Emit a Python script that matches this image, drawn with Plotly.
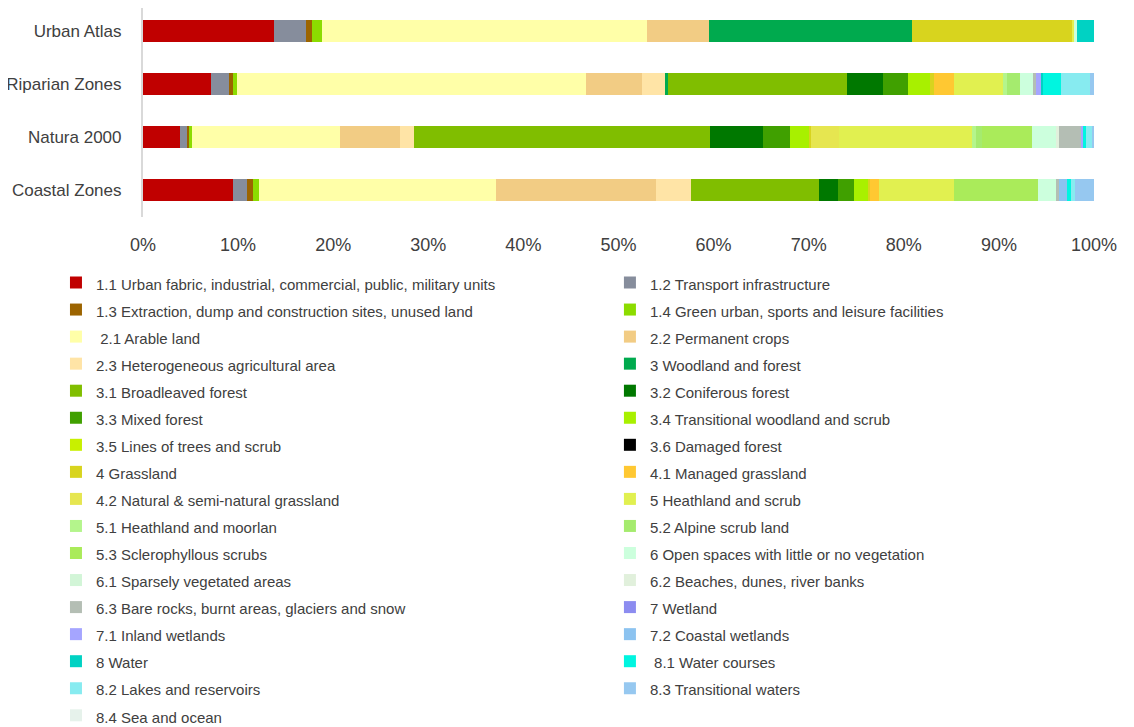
import plotly.graph_objects as go

# Land cover share (%) per zone type, stacked horizontally
zones = ['Urban Atlas', 'Riparian Zones', 'Natura 2000', 'Coastal Zones']

classes = [
    '1.1 Urban fabric, industrial, commercial, public, military units',
    '1.2 Transport infrastructure',
    '1.3 Extraction, dump and construction sites, unused land',
    '1.4 Green urban, sports and leisure facilities',
    ' 2.1 Arable land',
    '2.2 Permanent crops',
    '2.3 Heterogeneous agricultural area',
    '3 Woodland and forest',
    '3.1 Broadleaved forest',
    '3.2 Coniferous forest',
    '3.3 Mixed forest',
    '3.4 Transitional woodland and scrub',
    '3.5 Lines of trees and scrub',
    '3.6 Damaged forest',
    '4 Grassland',
    '4.1 Managed grassland',
    '4.2 Natural & semi-natural grassland',
    '5 Heathland and scrub',
    '5.1 Heathland and moorlan',
    '5.2 Alpine scrub land',
    '5.3 Sclerophyllous scrubs',
    '6 Open spaces with little or no vegetation',
    '6.1 Sparsely vegetated areas',
    '6.2 Beaches, dunes, river banks',
    '6.3 Bare rocks, burnt areas, glaciers and snow',
    '7 Wetland',
    '7.1 Inland wetlands',
    '7.2 Coastal wetlands',
    '8 Water',
    ' 8.1 Water courses',
    '8.2 Lakes and reservoirs',
    '8.3 Transitional waters',
    '8.4 Sea and ocean',
]

colors = [
    '#C00000', '#868D9C', '#9C6400', '#8CDC00',
    '#FFFFA8', '#F2CC84', '#FFE4A6',
    '#00AA4E', '#80BE00', '#007800', '#40A000', '#A8F000', '#C8F000', '#000000',
    '#D8D41E', '#FFC832', '#E6E650',
    '#E1F050', '#B4F58C', '#A5EB6E', '#AAEB5A',
    '#CCFFDD', '#D2F5D7', '#E1F0DC', '#B4BEB4',
    '#8C8CF0', '#A5A5FF', '#8CC3F0',
    '#00D2C3', '#00F5E0', '#87EBF0', '#96C8F0', '#E6F2EB',
]

urban_atlas = [13.75, 3.36, 0.64, 1.12, 34.08, 6.59, 0, 21.32, 0, 0, 0, 0, 0, 0,
               16.9, 0, 0, 0.18, 0, 0, 0, 0.3, 0, 0, 0, 0, 0, 0,
               1.76, 0, 0, 0, 0]
riparian = [7.19, 1.82, 0.42, 0.49, 36.63, 5.89, 2.42, 0.35, 18.77, 3.81, 2.67, 2.28, 0, 0,
            0.42, 2.07, 0, 5.16, 0.42, 1.4, 0, 1.47, 0, 0, 0.2, 0, 0.51, 0,
            0.27, 1.86, 3.04, 0.43, 0]
natura = [3.86, 0.77, 0.18, 0.34, 15.54, 6.31, 1.47, 0, 31.14, 5.61, 2.81, 2.02, 0, 0,
          0.15, 0, 3.01, 13.96, 0.4, 0.62, 5.32, 2.49, 0, 0.35, 2.36, 0, 0.17, 0,
          0, 0.28, 0.7, 0.14, 0]
coastal = [9.47, 1.51, 0.56, 0.63, 24.9, 16.86, 3.68, 0, 13.5, 1.96, 1.69, 1.5, 0, 0,
           0.18, 0.95, 0, 7.88, 0, 0, 8.81, 1.92, 0, 0, 0.28, 0, 0, 0.84,
           0, 0.45, 0.39, 2.03, 0]

tick_vals = [0, 10, 20, 30, 40, 50, 60, 70, 80, 90, 100]
tick_text = ['0%', '10%', '20%', '30%', '40%', '50%', '60%', '70%', '80%', '90%', '100%']

font = 'Liberation Sans, Arial, sans-serif'

fig = go.Figure()
for i, name in enumerate(classes):
    vals = [urban_atlas[i], riparian[i], natura[i], coastal[i]]
    fig.add_trace(go.Bar(
        name='<span style="font-size:15px">' + name + '</span>',
        y=zones,
        x=vals,
        orientation='h',
        marker={'color': colors[i], 'line': {'width': 0}},
        hovertemplate='%{y}: %{x:.2f}%<extra>' + name + '</extra>',
    ))

# zero margins so the legend may use the full page width/height;
# the bars sit in the top part via axis domains
fig.update_layout(
    barmode='stack',
    bargap=0.585,
    width=1134,
    height=727,
    margin={'l': 0, 'r': 0, 't': 0, 'b': 0, 'autoexpand': False},
    plot_bgcolor='white',
    paper_bgcolor='white',
    font={'family': font, 'color': '#404040'},
    xaxis={
        'domain': [0.119, 0.9577],
        'range': [0, 100],
        'tickmode': 'array',
        'tickvals': tick_vals,
        'ticktext': tick_text,
        'showgrid': False,
        'zeroline': False,
        'showline': False,
        'tickfont': {'size': 18},
        'ticklabelstandoff': 15,
    },
    yaxis={
        'domain': [0.7132, 1.0],
        'range': [3.5, -0.434],
        'showline': True,
        'linecolor': '#D9D9D9',
        'linewidth': 2,
        'showgrid': False,
        'ticks': '',
        'tickfont': {'size': 17},
        'ticklabelstandoff': 16,
    },
    legend={
        'orientation': 'h',
        'traceorder': 'normal',
        'x': 0.0423,
        'xanchor': 'left',
        'y': 0.6479,
        'yanchor': 'top',
        'entrywidth': 0.4885,
        'entrywidthmode': 'fraction',
        'maxheight': 0.95,
        'font': {'size': 18.5},
    },
    showlegend=True,
)

fig.write_html('out.html')
